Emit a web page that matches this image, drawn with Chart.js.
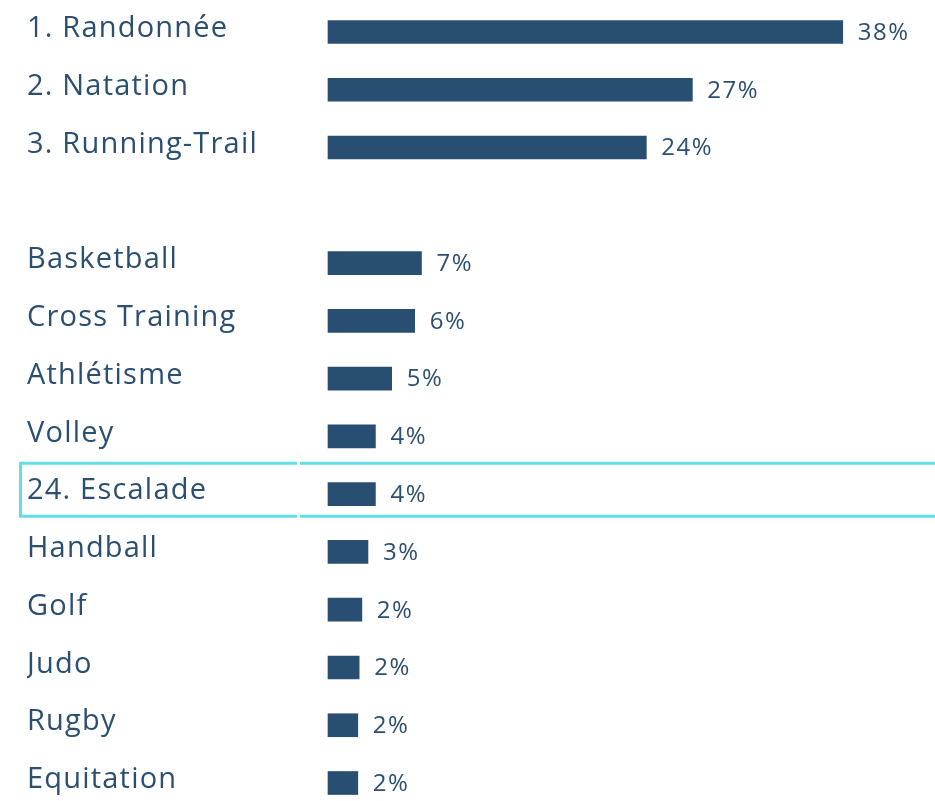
<!DOCTYPE html>
<html>
<head>
<meta charset="utf-8">
<script src="https://cdn.jsdelivr.net/npm/chart.js@4"></script>
<style>
  html, body { margin: 0; padding: 0; background: #fff; }
  #wrap { width: 935px; height: 801px; }
</style>
</head>
<body>
<div id="wrap"><canvas id="sports"></canvas></div>
<script>
// sports (une ligne vide sépare le top 3 du reste)
const categories = ["1. Randonnée", "2. Natation", "3. Running-Trail", "",
  "Basketball", "Cross Training", "Athlétisme", "Volley", "24. Escalade",
  "Handball", "Golf", "Judo", "Rugby", "Equitation"];
// valeurs estimées à partir de la longueur des barres
const values = [38, 26.9, 23.5, null, 6.9, 6.4, 4.7, 3.5, 3.5, 2.95, 2.5, 2.3, 2.2, 2.2];
// textes affichés à droite des barres
const valueLabels = ["38%", "27%", "24%", "", "7%", "6%", "5%", "4%", "4%", "3%", "2%", "2%", "2%", "2%"];
const highlighted = "24. Escalade";

const textColor = "#2b4f71";
const barColor = "#284e71";

// espacement des lettres pour se rapprocher d'une police large
const spacingPlugin = {
  id: "spacing",
  beforeDraw(chart) { chart.ctx.letterSpacing = "1.2px"; },
  afterDraw(chart) { chart.ctx.letterSpacing = "0px"; }
};

// étiquettes de valeur au bout des barres
const valueLabelPlugin = {
  id: "valueLabels",
  afterDatasetsDraw(chart) {
    const ctx = chart.ctx;
    const meta = chart.getDatasetMeta(0);
    ctx.save();
    ctx.letterSpacing = "1.5px";
    ctx.font = "24px 'Open Sans'";
    ctx.fillStyle = textColor;
    ctx.textAlign = "left";
    ctx.textBaseline = "middle";
    meta.data.forEach((bar, i) => {
      if (values[i] == null) return;
      ctx.fillText(valueLabels[i], bar.x + 15, bar.y + 1);
    });
    ctx.restore();
  }
};

// cadre cyan autour de la ligne mise en avant
const highlightPlugin = {
  id: "highlight",
  afterDraw(chart) {
    const ctx = chart.ctx;
    const y = chart.scales.y.getPixelForValue(categories.indexOf(highlighted));
    const top = y - 31, bottom = y + 22;
    ctx.save();
    ctx.strokeStyle = "#62dfe6";
    ctx.lineWidth = 3;
    ctx.beginPath();
    // partie gauche (avec bord gauche)
    ctx.moveTo(297, top);
    ctx.lineTo(20.5, top);
    ctx.lineTo(20.5, bottom);
    ctx.lineTo(297, bottom);
    // partie droite
    ctx.moveTo(300, top);
    ctx.lineTo(chart.width, top);
    ctx.moveTo(300, bottom);
    ctx.lineTo(chart.width, bottom);
    ctx.stroke();
    ctx.restore();
  }
};

const config = {
  type: "bar",
  data: {
    labels: categories,
    datasets: [{
      data: values,
      backgroundColor: barColor,
      barThickness: 23,
      clip: false
    }]
  },
  options: {
    indexAxis: "y",
    responsive: true,
    maintainAspectRatio: false,
    animation: false,
    layout: { padding: { left: 27, right: 11, top: 32, bottom: 18 } },
    plugins: {
      legend: { display: false },
      tooltip: { enabled: false }
    },
    scales: {
      x: { display: false, min: 0, max: 44 },
      y: {
        offset: false,
        grid: { display: false },
        border: { display: false },
        ticks: {
          crossAlign: "far",
          color: textColor,
          font: { family: "'Open Sans'", size: 29 },
          padding: 0,
          labelOffset: -3,
          autoSkip: false
        },
        afterFit(scale) { scale.width = 301; }
      }
    }
  },
  plugins: [spacingPlugin, valueLabelPlugin, highlightPlugin]
};

new Chart(document.getElementById("sports"), config);
</script>
</body>
</html>
